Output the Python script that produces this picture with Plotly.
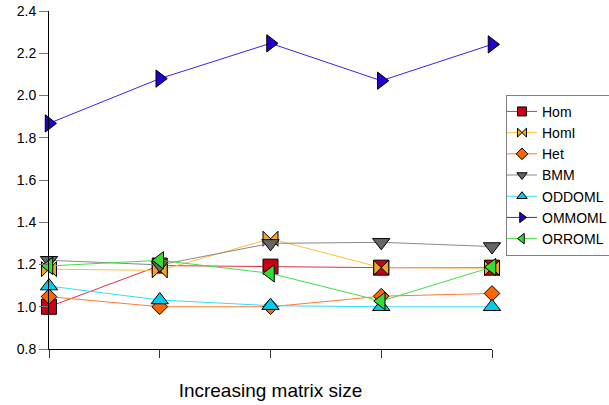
import plotly.graph_objects as go

x_pos = [0, 1, 2, 3, 4]
series_names = ["Hom", "HomI", "Het", "BMM", "ODDOML", "OMMOML", "ORROML"]
hom = [1.00, 1.195, 1.19, 1.185, 1.185]
homi = [1.178, 1.172, 1.322, 1.185, 1.183]
het = [1.048, 1.000, 1.000, 1.050, 1.063]
bmm = [1.220, 1.198, 1.300, 1.305, 1.285]
oddoml = [1.098, 1.032, 1.005, 1.000, 1.000]
ommoml = [1.868, 2.080, 2.247, 2.070, 2.242]
orroml = [1.193, 1.220, 1.158, 1.027, 1.188]

values = [hom, homi, het, bmm, oddoml, ommoml, orroml]
line_colors = ["#E0304A", "#FFBE3A", "#FF7A33", "#888888", "#33DDFF", "#3B22EE", "#44DD44"]
fill_colors = ["#CC0014", "#F2A81E", "#FF6600", "#666666", "#00CCEE", "#2200CC", "#33DD33"]
symbols = ["square", "bowtie", "diamond", "triangle-down", "triangle-up", "triangle-right", "triangle-left"]
sizes = [15, 15, 12, 15, 15, 15, 15]

fig = go.Figure()
for name, vals, lc, fc, sym, sz in zip(series_names, values, line_colors, fill_colors, symbols, sizes):
    fig.add_trace(go.Scatter(
        x=x_pos, y=vals, name=name, mode="lines+markers",
        line=dict(color=lc, width=1),
        marker=dict(symbol=sym, size=sz, color=fc, line=dict(color="black", width=1)),
        cliponaxis=False, showlegend=False, legendgroup=name,
    ))
# legend entries with small symbols, as in the reference
for name, lc, fc, sym in zip(series_names, line_colors, fill_colors, symbols):
    fig.add_trace(go.Scatter(
        x=[None], y=[None], name=name, mode="lines+markers",
        line=dict(color=lc, width=1),
        marker=dict(symbol=sym, size=9, color=fc, line=dict(color="black", width=1)),
        showlegend=True, legendgroup=name,
    ))

fig.update_layout(
    width=609, height=405,
    margin=dict(l=49, r=117, t=11, b=56, autoexpand=False),
    paper_bgcolor="white", plot_bgcolor="white",
    font=dict(family="Liberation Sans, Arial, sans-serif", color="black"),
    showlegend=True,
    legend=dict(
        x=1.0316, y=0.752, xanchor="left", yanchor="top",
        bordercolor="#808080", borderwidth=1, bgcolor="white",
        font=dict(size=14), itemwidth=30, tracegroupgap=0, itemsizing="trace",
        indentation=-5,
    ),
    xaxis=dict(
        range=[0, 4], tickvals=x_pos, ticktext=["", "", "", "", ""],
        showline=True, linecolor="black", linewidth=1,
        ticks="outside", ticklen=8, tickcolor="#333333",
        showgrid=False, zeroline=False,
        title=dict(text="Increasing matrix size", font=dict(size=19), standoff=24),
    ),
    yaxis=dict(
        range=[0.8, 2.4], dtick=0.2, tick0=0.8, tickformat=".1f",
        showline=True, linecolor="black", linewidth=1,
        ticks="outside", ticklen=9, tickcolor="#777777",
        showgrid=False, zeroline=False,
        tickfont=dict(size=14),
    ),
)

fig.write_html("out.html")
